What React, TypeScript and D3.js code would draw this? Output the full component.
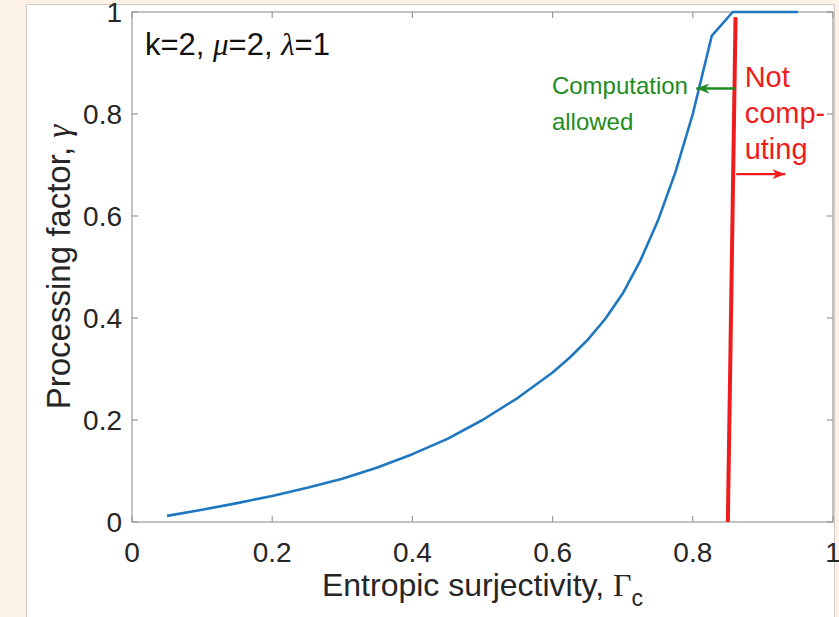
import React, {useEffect, useRef} from "react";
import * as d3 from "d3";

// blue curve: processing factor vs entropic surjectivity
const gammaC = [0.05, 0.1, 0.15, 0.2, 0.25, 0.3, 0.35, 0.4, 0.45, 0.5, 0.55, 0.6, 0.625, 0.65, 0.675, 0.7, 0.725, 0.75, 0.775, 0.8, 0.827, 0.857, 0.95]
const gammaP = [0.012, 0.024, 0.037, 0.051, 0.067, 0.085, 0.107, 0.133, 0.163, 0.2, 0.243, 0.293, 0.323, 0.357, 0.398, 0.448, 0.512, 0.59, 0.685, 0.8, 0.953, 1, 1]

// red threshold line
const limitX = [0.85, 0.861]
const limitY = [0, 0.99]

// arrows [x0, x1, y]
const greenArrow = [0.861, 0.805, 0.85]
const redArrow = [0.862, 0.932, 0.682]

const xTicks = [0, 0.2, 0.4, 0.6, 0.8, 1]
const yTicks = [0, 0.2, 0.4, 0.6, 0.8, 1]

const W = 839
const H = 617
const left = 132, right = 833, top = 12, bottom = 522

const sans = "'Liberation Sans', Arial, Helvetica, sans-serif"
const serif = "'Liberation Serif', 'Times New Roman', serif"
const axisCol = "#9a9a9a"
const textCol = "#262626"
const blue = "#1f77c0"
const red = "#ee1c1c"
const green = "#1e8c22"

export default function App() {
    const svgRef = useRef<SVGSVGElement>(null)

    useEffect(() => {
        const svg = d3.select(svgRef.current)
        svg.selectAll("*").remove()

        const x = d3.scaleLinear().domain([0, 1]).range([left, right])
        const y = d3.scaleLinear().domain([0, 1]).range([bottom, top])

        // page background + white figure panel
        svg.append("rect").attr("width", W).attr("height", H).attr("fill", "#fcf1e7")
        svg.append("rect").attr("x", 26.5).attr("y", 4.5).attr("width", 808).attr("height", 620)
            .attr("fill", "white").attr("stroke", "#d6c9c1")

        const defs = svg.append("defs")
        const marker = (id, col, len, wid) => {
            defs.append("marker").attr("id", id)
                .attr("viewBox", `0 ${-wid / 2} ${len} ${wid}`)
                .attr("refX", len).attr("refY", 0)
                .attr("markerUnits", "userSpaceOnUse")
                .attr("markerWidth", len).attr("markerHeight", wid)
                .attr("orient", "auto")
                .append("path")
                .attr("d", `M0,${-wid / 2}L${len},0L0,${wid / 2}L${len * 0.3},0Z`)
                .attr("fill", col)
        }
        marker("ga", green, 13, 10)
        marker("ra", red, 13, 10)

        // axes box
        svg.append("rect").attr("x", left).attr("y", top)
            .attr("width", right - left).attr("height", bottom - top)
            .attr("fill", "none").attr("stroke", axisCol).attr("stroke-width", 1.2)

        const tl = 6
        const g = svg.append("g").attr("stroke", axisCol).attr("stroke-width", 1.2)
        xTicks.forEach(t => {
            g.append("line").attr("x1", x(t)).attr("x2", x(t)).attr("y1", bottom).attr("y2", bottom - tl)
            g.append("line").attr("x1", x(t)).attr("x2", x(t)).attr("y1", top).attr("y2", top + tl)
        })
        yTicks.forEach(t => {
            g.append("line").attr("x1", left).attr("x2", left + tl).attr("y1", y(t)).attr("y2", y(t))
            g.append("line").attr("x1", right).attr("x2", right - tl).attr("y1", y(t)).attr("y2", y(t))
        })

        // tick labels
        svg.append("g").selectAll("text").data(xTicks).join("text")
            .attr("x", d => x(d)).attr("y", 562)
            .attr("text-anchor", "middle")
            .attr("font-family", sans).attr("font-size", 28).attr("fill", textCol)
            .text(d => d3.format("")(d))
        svg.append("g").selectAll("text").data(yTicks).join("text")
            .attr("x", 122).attr("y", d => y(d)).attr("dy", "0.36em")
            .attr("text-anchor", "end")
            .attr("font-family", sans).attr("font-size", 28).attr("fill", textCol)
            .text(d => d3.format("")(d))

        // axis labels
        const xl = svg.append("text").attr("x", (left + right) / 2).attr("y", 596)
            .attr("text-anchor", "middle").attr("font-family", sans).attr("font-size", 32).attr("fill", textCol)
        xl.append("tspan").text("Entropic surjectivity,  ")
        xl.append("tspan").attr("font-family", serif).text("Γ")
        xl.append("tspan").attr("font-size", 23).attr("dy", 10).text("c")

        const yl = svg.append("text")
            .attr("transform", `translate(70,${(top + bottom) / 2}) rotate(-90)`)
            .attr("text-anchor", "middle").attr("font-family", sans).attr("font-size", 33).attr("fill", textCol)
        yl.append("tspan").text("Processing factor,  ")
        yl.append("tspan").attr("font-family", serif).attr("font-style", "italic").text("γ")

        // parameters
        const pt = svg.append("text").attr("x", x(0.0185)).attr("y", y(0.916))
            .attr("font-family", sans).attr("font-size", 31).attr("fill", "#111")
        pt.append("tspan").text("k=2, ")
        pt.append("tspan").attr("font-family", serif).attr("font-style", "italic").text("μ")
        pt.append("tspan").text("=2, ")
        pt.append("tspan").attr("font-family", serif).attr("font-style", "italic").text("λ")
        pt.append("tspan").text("=1")

        // curve
        const line = d3.line<number>()
            .x((d, i) => x(gammaC[i]))
            .y(d => y(d))
        svg.append("path").datum(gammaP)
            .attr("d", line)
            .attr("fill", "none").attr("stroke", blue).attr("stroke-width", 2.6)
            .attr("stroke-linejoin", "round")

        // threshold
        svg.append("path").datum(limitY)
            .attr("d", d3.line<number>().x((d, i) => x(limitX[i])).y(d => y(d)))
            .attr("stroke", red).attr("stroke-width", 4).attr("fill", "none")

        svg.append("line")
            .attr("x1", x(greenArrow[0])).attr("x2", x(greenArrow[1]))
            .attr("y1", y(greenArrow[2])).attr("y2", y(greenArrow[2]))
            .attr("stroke", green).attr("stroke-width", 2.4).attr("marker-end", "url(#ga)")
        svg.append("line")
            .attr("x1", x(redArrow[0])).attr("x2", x(redArrow[1]))
            .attr("y1", y(redArrow[2])).attr("y2", y(redArrow[2]))
            .attr("stroke", red).attr("stroke-width", 2.2).attr("marker-end", "url(#ra)")

        // annotations
        const ann = (lines, x0, ys, col, fs) => {
            lines.forEach((s, i) => {
                svg.append("text").attr("x", x(x0)).attr("y", y(ys[i]))
                    .attr("font-family", sans).attr("font-size", fs).attr("fill", col)
                    .text(s)
            })
        }
        ann(["Computation", "allowed"], 0.599, [0.839, 0.769], green, 24)
        ann(["Not", "comp-", "uting"], 0.874, [0.853, 0.782, 0.712], red, 29)
    }, [])

    return (
        <svg ref={svgRef} width={W} height={H}
             style={{position: "absolute", left: 0, top: 0, display: "block"}} />
    );
}
